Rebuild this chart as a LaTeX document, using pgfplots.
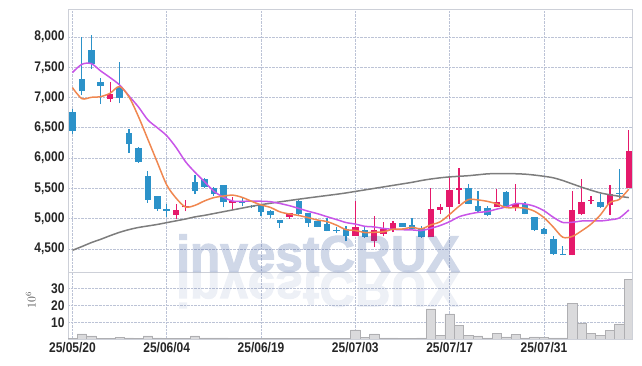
\documentclass[border=0pt]{standalone}
\usepackage{pgfplots}
\pgfplotsset{compat=1.18}
\usepackage{pgfplotstable}
\usepackage{fontspec}
\setmainfont{Liberation Sans}
\newfontfamily\tickfont{Liberation Sans Bold}[FakeStretch=0.86]
\newfontfamily\wmfont{Liberation Sans Bold}[FakeStretch=0.975, FakeBold=2.2]
\definecolor{cblue}{RGB}{44,146,201}
\definecolor{cred}{RGB}{229,25,107}
\definecolor{maorange}{RGB}{240,135,80}
\definecolor{mapurple}{RGB}{200,85,232}
\definecolor{magray}{RGB}{125,125,125}
\definecolor{gridc}{RGB}{188,195,214}
\definecolor{framec}{RGB}{205,208,216}
\definecolor{tickc}{RGB}{38,38,38}
\definecolor{volfill}{RGB}{218,218,220}
\definecolor{voldraw}{RGB}{175,175,178}
\definecolor{wmc}{RGB}{60,90,160}

\pgfplotstableread{
i O H L C
0 6760 6810 6400 6450
1 7300 8000 7040 7100
2 7790 8040 7470 7560
3 7260 7320 6890 7190
5 7175 7590 6905 7000
6 6415 6475 6090 6240
7 6170 6185 5925 5940
8 5705 5790 5265 5310
9 5375 5380 5130 5165
10 5155 5240 5020 5130
13 5600 5715 5405 5450
14 5650 5670 5510 5525
15 5515 5530 5370 5405
16 5550 5555 5185 5270
18 5300 5340 5205 5265
19 5210 5230 5175 5200
20 5230 5235 5040 5110
21 5120 5150 5010 5060
22 4975 4980 4845 4930
24 5300 5305 5040 5075
25 5090 5095 4870 4930
26 4955 4960 4860 4865
27 4920 5010 4790 4800
28 4805 4860 4765 4795
29 4835 4875 4625 4710
31 4820 4855 4685 4700
35 4925 4930 4865 4870
36 4890 5010 4830 4835
37 4845 4875 4685 4700
42 5510 5570 5235 5250
43 5205 5455 5095 5125
44 5170 5205 5040 5065
46 5440 5455 5195 5205
48 5235 5280 5070 5085
49 5025 5030 4795 4810
50 4830 4850 4740 4750
51 4665 4710 4405 4420
52 4415 4545 4400 4405
56 5275 5400 5180 5190
58 5420 5815 5320 5410
}\bluetab

\pgfplotstableread{
i O H L C
4 6980 7250 6930 7060
11 5065 5240 4990 5145
12 5185 5310 5120 5215
17 5255 5350 5150 5295
23 5025 5095 4995 5090
30 4715 5295 4710 4855
32 4640 5040 4540 4820
33 4750 4945 4710 4835
34 4830 4970 4780 4925
38 4695 5505 4690 5155
39 5150 5250 5085 5185
40 5195 5690 5000 5480
41 5475 5835 5245 5510
45 5195 5485 5190 5275
47 5200 5565 5125 5240
53 4395 5455 4395 5150
54 5070 5650 5055 5275
55 5295 5375 5235 5305
57 5220 5555 5060 5415
59 5510 6460 5510 6120
}\redtab

\pgfplotstableread{
i V
0 0.2
1 3.0
2 1.8
3 0.2
4 0.2
5 1.0
6 0.6
7 0.2
8 1.8
9 0.6
10 0.4
11 0.4
12 0.2
13 1.8
14 0.6
15 0.6
16 0.6
17 0.2
18 0.2
19 0.2
20 0.2
21 0.2
22 0.2
23 0.2
24 0.5
25 0.2
26 0.2
27 0.2
28 0.2
29 0.2
30 5.4
31 1.0
32 3.0
33 0.6
34 0.6
35 0.2
36 0.4
37 0.6
38 18.0
39 2.0
40 15.0
41 8.0
42 2.0
43 1.8
44 0.6
45 3.2
46 1.2
47 2.6
48 0.6
49 1.2
50 0.8
51 0.6
52 0.6
53 21.2
54 9.6
55 3.2
56 2.0
57 5.0
58 9.0
59 35.4
}\voltab

\begin{document}
\begin{tikzpicture}
\path[use as bounding box] (0,0) rectangle (642bp,366bp);

\begin{axis}[
  at={(68bp,94bp)}, anchor=south west, scale only axis,
  width=564bp, height=263bp,
  xmin=-0.47, xmax=59.34, ymin=4120, ymax=8462,
  xtick={0,10,...,50}, xticklabels={},
  ytick={4500,5000,...,8000},
  grid=major,
  major grid style={densely dotted, draw=gridc, line width=0.7bp},
  axis line style={draw=framec, line width=0.8bp},
  tick style={draw=none},
  yticklabel style={font=\tickfont\fontsize{14}{14}\selectfont, text=tickc},
  /pgf/number format/1000 sep={,},
  /pgf/number format/assume math mode=true,
  clip=true,
]
% wicks
\addplot[draw=none, mark=none,
  error bars/.cd, y dir=plus, y explicit, error mark=none,
  error bar style={draw=cblue, solid, line width=1.2bp}]
  table[x=i, y=L, y error expr={\thisrow{H}-\thisrow{L}}] {\bluetab};
\addplot[draw=none, mark=none,
  error bars/.cd, y dir=plus, y explicit, error mark=none,
  error bar style={draw=cred, solid, line width=1.2bp}]
  table[x=i, y=L, y error expr={\thisrow{H}-\thisrow{L}}] {\redtab};
% bodies
\addplot[draw=none, mark=none,
  error bars/.cd, y dir=plus, y explicit, error mark=none,
  error bar style={draw=cblue, solid, line width=6.5bp}]
  table[x=i, y expr={min(\thisrow{O},\thisrow{C})}, y error expr={max(abs(\thisrow{O}-\thisrow{C}),16)}] {\bluetab};
\addplot[draw=none, mark=none,
  error bars/.cd, y dir=plus, y explicit, error mark=none,
  error bar style={draw=cred, solid, line width=6.5bp}]
  table[x=i, y expr={min(\thisrow{O},\thisrow{C})}, y error expr={max(abs(\thisrow{O}-\thisrow{C}),16)}] {\redtab};

% MA60 (gray)
\addplot[smooth, mark=none, draw=magray, line width=1.5bp] coordinates {
(0,4478)(1,4540)(2,4605)(3,4660)(4,4720)(5,4775)(6,4820)(7,4855)(8,4880)(9,4905)
(10,4935)(11,4965)(12,4995)(13,5030)(14,5055)(15,5085)(16,5115)(17,5145)(18,5175)(19,5205)
(20,5232)(21,5255)(22,5278)(23,5300)(24,5322)(25,5343)(26,5363)(27,5383)(28,5403)(29,5425)
(30,5450)(31,5475)(32,5500)(33,5525)(34,5550)(35,5575)(36,5600)(37,5630)(38,5655)(39,5675)
(40,5690)(41,5700)(42,5710)(43,5725)(44,5740)(45,5745)(46,5745)(47,5742)(48,5735)(49,5720)
(50,5700)(51,5675)(52,5630)(53,5575)(54,5520)(55,5470)(56,5425)(57,5395)(58,5370)(59,5348)};
% MA10 (purple)
\addplot[smooth, mark=none, draw=mapurple, line width=1.5bp] coordinates {
(0,7412)(1,7549)(2,7560)(3,7439)(4,7329)(5,7208)(6,7026)(7,6845)(8,6631)(9,6502)
(10,6370)(11,6174)(12,5940)(13,5766)(14,5612)(15,5453)(16,5356)(17,5291)(18,5287)(19,5290)
(20,5288)(21,5280)(22,5251)(23,5215)(24,5170)(25,5123)(26,5082)(27,5033)(28,4986)(29,4937)
(30,4911)(31,4875)(32,4864)(33,4839)(34,4824)(35,4818)(36,4815)(37,4805)(38,4841)(39,4888)
(40,4951)(41,5032)(42,5075)(43,5104)(44,5118)(45,5158)(46,5195)(47,5249)(48,5242)(49,5205)
(50,5132)(51,5023)(52,4938)(53,4941)(54,4962)(55,4965)(56,4963)(57,4981)(58,5013)(59,5144)};
% MA5 (orange)
\addplot[smooth, mark=none, draw=maorange, line width=1.5bp] coordinates {
(0,7164)(1,6982)(2,7004)(3,7015)(4,7072)(5,7182)(6,7010)(7,6686)(8,6310)(9,5931)
(10,5557)(11,5338)(12,5193)(13,5221)(14,5293)(15,5348)(16,5373)(17,5389)(18,5352)(19,5287)
(20,5228)(21,5186)(22,5113)(23,5078)(24,5053)(25,5017)(26,4978)(27,4952)(28,4893)(29,4820)
(30,4805)(31,4772)(32,4776)(33,4784)(34,4827)(35,4830)(36,4857)(37,4833)(38,4897)(39,4949)
(40,5071)(41,5206)(42,5316)(43,5310)(44,5286)(45,5245)(46,5184)(47,5182)(48,5174)(49,5123)
(50,5018)(51,4861)(52,4694)(53,4707)(54,4800)(55,4911)(56,5065)(57,5267)(58,5319)(59,5488)};
\end{axis}

\begin{axis}[
  at={(68bp,27bp)}, anchor=south west, scale only axis,
  width=564bp, height=67bp,
  xmin=-0.47, xmax=59.34, ymin=0, ymax=40,
  xtick={0,10,...,50},
  xticklabels={25/05/20,25/06/04,25/06/19,25/07/03,25/07/17,25/07/31},
  ytick={10,20,30},
  grid=major,
  major grid style={densely dotted, draw=gridc, line width=0.7bp},
  axis line style={draw=framec, line width=0.8bp},
  tick style={draw=none},
  ticklabel style={font=\tickfont\fontsize{14}{14}\selectfont, text=tickc},
  /pgf/number format/assume math mode=true,
  ylabel={$10^6$},
  ylabel style={at={(axis description cs:-0.066,0.58)}, anchor=center, text=black!70, font=\fontsize{12}{12}\selectfont},
]
\addplot[ybar, bar width=1, fill=volfill, draw=voldraw, line width=0.6bp] table[x=i, y=V] {\voltab};
\end{axis}

% watermark and its reflection
\begin{scope}[transparency group, opacity=0.24]
\node[anchor=base west, inner sep=0, text=wmc,
  font=\wmfont\fontsize{51}{51}\selectfont] at (176bp,94.7bp) {investCRUX};
\end{scope}
\begin{scope}[transparency group, opacity=0.09]
\node[anchor=base west, inner sep=0, text=wmc, yscale=-1, transform shape,
  font=\wmfont\fontsize{51}{51}\selectfont] at (176bp,94.7bp) {investCRUX};
\end{scope}
\end{tikzpicture}
\end{document}
